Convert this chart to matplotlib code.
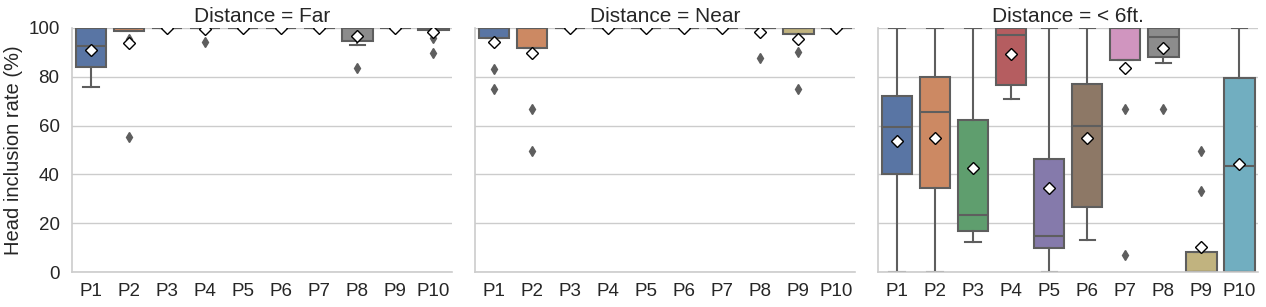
import matplotlib
matplotlib.use("Agg")
import matplotlib.pyplot as plt
import seaborn as sns

categories = ["P1", "P2", "P3", "P4", "P5", "P6", "P7", "P8", "P9", "P10"]
panels = ["Far", "Near", "< 6ft."]

# Far
far_q1 = [84.0, 98.8, 100, 100, 100, 100, 100, 94.7, 100, 99.3]
far_med = [92.7, 100, 100, 100, 100, 100, 100, 100, 100, 100]
far_q3 = [100, 100, 100, 100, 100, 100, 100, 100, 100, 100]
far_lo = [75.9, 98.8, 100, 100, 100, 100, 100, 93.2, 100, 99.3]
far_hi = [100, 100, 100, 100, 100, 100, 100, 100, 100, 100]
far_mean = [90.8, 93.7, 100, 99.4, 100, 100, 100, 96.7, 100, 98.2]
far_fliers = [[], [95.5, 55.2], [], [94.4], [], [], [], [83.7], [], [96.0, 89.9]]

# Near
near_q1 = [95.9, 91.8, 100, 100, 100, 100, 100, 100, 97.7, 100]
near_med = [100, 100, 100, 100, 100, 100, 100, 100, 100, 100]
near_q3 = [100, 100, 100, 100, 100, 100, 100, 100, 100, 100]
near_lo = [95.9, 91.8, 100, 100, 100, 100, 100, 100, 97.7, 100]
near_hi = [100, 100, 100, 100, 100, 100, 100, 100, 100, 100]
near_mean = [94.4, 89.6, 100, 100, 100, 100, 100, 98.2, 95.4, 100]
near_fliers = [[83.1, 74.9], [66.7, 49.7], [], [], [], [], [], [87.6], [90.0, 74.9], []]

# < 6ft.
six_q1 = [40.3, 34.6, 16.7, 76.6, 9.8, 26.6, 86.9, 88.1, 0, 0]
six_med = [59.6, 65.6, 23.5, 97.0, 14.9, 60.0, 100, 96.4, 0, 43.3]
six_q3 = [72.1, 79.9, 62.4, 100, 46.3, 77.0, 100, 100, 8.3, 79.5]
six_lo = [0, 0, 12.4, 70.8, 0, 13.2, 86.9, 85.8, 0, 0]
six_hi = [100, 100, 100, 100, 100, 100, 100, 100, 8.3, 100]
six_mean = [53.6, 54.9, 42.5, 89.3, 34.3, 54.9, 83.5, 91.7, 10.2, 44.1]
six_fliers = [[], [], [], [], [], [], [66.7, 6.8], [66.7], [49.7, 33.1], []]

data = [
    (far_q1, far_med, far_q3, far_lo, far_hi, far_mean, far_fliers),
    (near_q1, near_med, near_q3, near_lo, near_hi, near_mean, near_fliers),
    (six_q1, six_med, six_q3, six_lo, six_hi, six_mean, six_fliers),
]

plt.rcParams["font.family"] = ["Liberation Sans", "DejaVu Sans"]
palette = [sns.desaturate(c, 0.75) for c in sns.color_palette("deep", 10)]
gray = "#5e5e5e"

fig = plt.figure(figsize=(12.66, 3.07), dpi=100)
lefts = [0.0569, 0.3752, 0.6935]
width = 0.3005
bottom = 0.114
height = 0.795

for i, (q1, med, q3, lo, hi, mean, fl) in enumerate(data):
    ax = fig.add_axes([lefts[i], bottom, width, height])
    stats = []
    for j in range(len(categories)):
        stats.append(dict(q1=q1[j], med=med[j], q3=q3[j], whislo=lo[j],
                          whishi=hi[j], mean=mean[j], fliers=fl[j]))
    bp = ax.bxp(stats, positions=range(len(categories)), widths=0.8,
                patch_artist=True, showmeans=True,
                boxprops=dict(edgecolor=gray, linewidth=1.5),
                medianprops=dict(color=gray, linewidth=1.5),
                whiskerprops=dict(color=gray, linewidth=1.5),
                capprops=dict(color=gray, linewidth=1.5),
                flierprops=dict(marker="d", markerfacecolor=gray,
                                markeredgecolor=gray, markersize=5),
                meanprops=dict(marker="D", markerfacecolor="white",
                               markeredgecolor="black", markersize=6,
                               markeredgewidth=1.0),
                zorder=2)
    for patch, c in zip(bp["boxes"], palette):
        patch.set_facecolor(c)
    ax.set_ylim(0, 100)
    ax.set_xlim(-0.5, len(categories) - 0.5)
    ax.set_yticks([0, 20, 40, 60, 80, 100])
    ax.set_xticks(range(len(categories)))
    ax.set_xticklabels(categories)
    ax.yaxis.grid(True, color="#cccccc", linewidth=1.0, zorder=0)
    ax.set_axisbelow(True)
    for s in ["top", "right"]:
        ax.spines[s].set_visible(False)
    for s in ["left", "bottom"]:
        ax.spines[s].set_color("#cccccc")
        ax.spines[s].set_linewidth(1.2)
    ax.tick_params(axis="both", length=0, labelsize=13.5, colors="#262626")
    ax.tick_params(axis="x", pad=8)
    ax.tick_params(axis="y", pad=9)
    if i > 0:
        ax.tick_params(axis="y", labelleft=False)
    else:
        ax.set_ylabel("Head inclusion rate (%)", fontsize=14.5, color="#262626")
    ax.set_title(f"Distance = {panels[i]}", fontsize=15, color="#262626", pad=4)

fig.savefig("out.png", dpi=100)
